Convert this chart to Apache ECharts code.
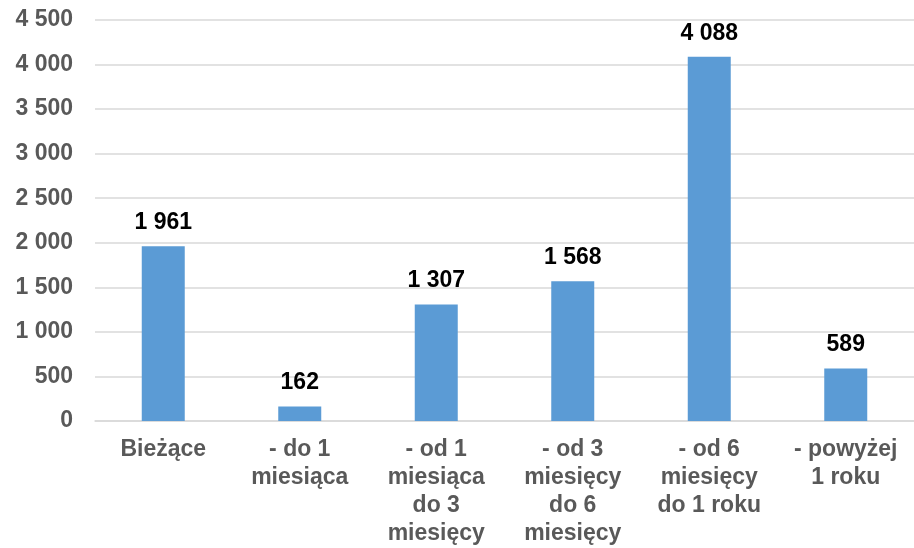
<!DOCTYPE html>
<html>
<head>
<meta charset="utf-8">
<script src="https://cdn.jsdelivr.net/npm/echarts@6/dist/echarts.min.js"></script>
<style>html,body{margin:0;padding:0;background:#fff}#c{width:914px;height:548px}</style>
</head>
<body>
<div id="c"></div>
<script>
var categories = ["Bieżące", "- do 1\nmiesiąca", "- od 1\nmiesiąca\ndo 3\nmiesięcy", "- od 3\nmiesięcy\ndo 6\nmiesięcy", "- od 6\nmiesięcy\ndo 1 roku", "- powyżej\n1 roku"];
var values = [1961, 162, 1307, 1568, 4088, 589];
var yMin = 0, yMax = 4500, yStep = 500;

function fmt(v) {
  return String(v).replace(/\B(?=(\d{3})+(?!\d))/g, " ");
}

var chart = echarts.init(document.getElementById('c'), null, {renderer: 'canvas'});
chart.setOption({
  animation: false,
  grid: {left: 95, top: 20, width: 822, height: 403.5, containLabel: false},
  xAxis: {
    type: 'category',
    data: categories,
    axisLine: {show: true, lineStyle: {color: '#d9d9d9', width: 1.5}},
    axisTick: {show: false},
    axisLabel: {
      interval: 0,
      margin: 15,
      color: '#595959',
      fontFamily: 'Liberation Sans, Arial, sans-serif',
      fontWeight: 'bold',
      fontSize: 23,
      lineHeight: 28
    }
  },
  yAxis: {
    type: 'value',
    min: yMin, max: yMax, interval: yStep,
    axisLine: {show: false},
    axisTick: {show: false},
    splitLine: {lineStyle: {color: '#d9d9d9', width: 1.5}},
    axisLabel: {
      margin: 22,
      color: '#595959',
      fontFamily: 'Liberation Sans, Arial, sans-serif',
      fontWeight: 'bold',
      fontSize: 23,
      formatter: fmt
    }
  },
  series: [{
    type: 'bar',
    data: values,
    barWidth: 43,
    itemStyle: {color: '#5b9bd5'},
    label: {
      show: true,
      position: 'top',
      distance: 12,
      color: '#000000',
      fontFamily: 'Liberation Sans, Arial, sans-serif',
      fontWeight: 'bold',
      fontSize: 23,
      formatter: function (p) { return fmt(p.value); }
    }
  }]
});
</script>
</body>
</html>
